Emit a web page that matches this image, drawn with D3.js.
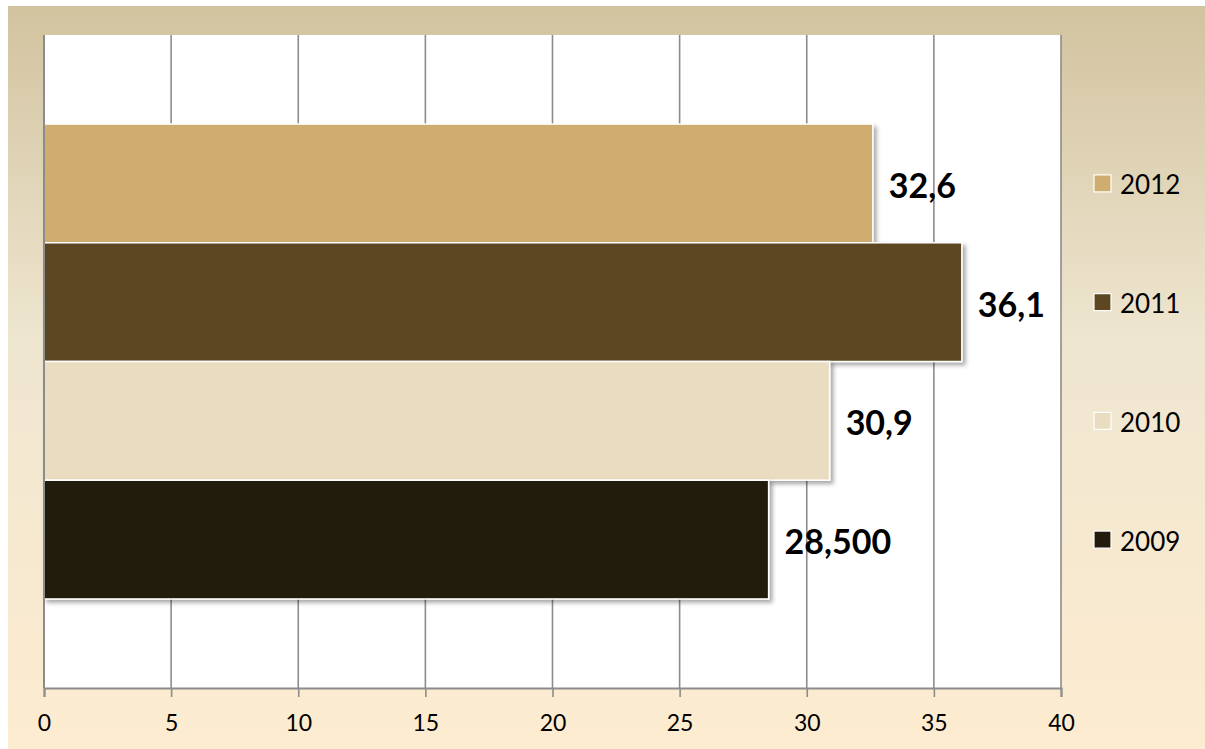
<!DOCTYPE html>
<html>
<head>
<meta charset="utf-8">
<script src="https://cdn.jsdelivr.net/npm/d3@7"></script>
<style>
  html, body { margin: 0; padding: 0; background: #ffffff; }
  svg { display: block; }
</style>
</head>
<body>
<div id="chart"></div>
<script>
// ---- data ----
const series = ["2012", "2011", "2010", "2009"];
const values = [32.6, 36.1, 30.9, 28.5];
const valueLabels = ["32,6", "36,1", "30,9", "28,500"];
const colors = ["#cfad6f", "#5c4720", "#eadcc0", "#221a0d"];
const xTicks = [0, 5, 10, 15, 20, 25, 30, 35, 40];

// ---- layout ----
const W = 1205, H = 749;
const plot = { left: 44, right: 1061, top: 35, bottom: 688 };
const fontFamily = "Lato, 'Open Sans', 'DejaVu Sans', sans-serif";

const svg = d3.select("#chart").append("svg")
  .attr("width", W).attr("height", H);

const defs = svg.append("defs");
const grad = defs.append("linearGradient").attr("id", "bg")
  .attr("x1", 0).attr("y1", 0).attr("x2", 0).attr("y2", 1);
grad.append("stop").attr("offset", "0%").attr("stop-color", "#d2c39f");
grad.append("stop").attr("offset", "45%").attr("stop-color", "#efe6d0");
grad.append("stop").attr("offset", "100%").attr("stop-color", "#fdecd0");

const shadow = defs.append("filter").attr("id", "shadow")
  .attr("x", "-5%").attr("y", "-10%").attr("width", "115%").attr("height", "130%");
shadow.append("feDropShadow").attr("dx", 3).attr("dy", 3)
  .attr("stdDeviation", 2.2).attr("flood-color", "#000").attr("flood-opacity", 0.35);

// background
svg.append("rect").attr("x", 8).attr("y", 6).attr("width", W - 8).attr("height", H - 6)
  .attr("fill", "url(#bg)");

// plot area
svg.append("rect").attr("x", plot.left).attr("y", plot.top)
  .attr("width", plot.right - plot.left).attr("height", plot.bottom - plot.top)
  .attr("fill", "#ffffff");

// scales
const x = d3.scaleLinear().domain([0, 40]).range([plot.left, plot.right]);
const y = d3.scaleBand().domain(series).range([plot.top, plot.bottom])
  .paddingInner(0).paddingOuter(0.75);

// gridlines
svg.append("g").selectAll("line").data(xTicks).join("line")
  .attr("x1", d => x(d)).attr("x2", d => x(d))
  .attr("y1", plot.top).attr("y2", plot.bottom)
  .attr("stroke", "#8c8c8c").attr("stroke-width", 1.6);

// x axis
const xAxis = d3.axisBottom(x).tickValues(xTicks).tickSize(9).tickPadding(18)
  .tickFormat(d => String(d));
const ax = svg.append("g").attr("transform", `translate(0,${plot.bottom})`).call(xAxis);
ax.select(".domain").attr("stroke", "#8c8c8c").attr("stroke-width", 2);
ax.selectAll(".tick line").attr("stroke", "#8c8c8c").attr("stroke-width", 1.6);
ax.selectAll(".tick text").attr("font-family", fontFamily).attr("font-size", 23)
  .attr("fill", "#000");

// bars
const data = series.map((s, i) => ({ s, v: values[i], label: valueLabels[i], c: colors[i] }));
svg.append("g").selectAll("rect").data(data).join("rect")
  .attr("x", x(0))
  .attr("y", d => y(d.s))
  .attr("width", d => x(d.v) - x(0))
  .attr("height", y.bandwidth())
  .attr("fill", d => d.c)
  .attr("stroke", "#ffffff").attr("stroke-width", 1.5)
  .attr("filter", "url(#shadow)");

// left axis line
svg.append("line").attr("x1", plot.left).attr("x2", plot.left)
  .attr("y1", plot.top).attr("y2", plot.bottom)
  .attr("stroke", "#8c8c8c").attr("stroke-width", 2);

// value labels
svg.append("g").selectAll("text").data(data).join("text")
  .attr("x", d => x(d.v) + 16)
  .attr("y", d => y(d.s) + y.bandwidth() / 2 + 1)
  .attr("dominant-baseline", "central")
  .attr("font-family", fontFamily).attr("font-weight", "bold").attr("font-size", 34)
  .attr("fill", "#000")
  .text(d => d.label);

// legend
const lg = svg.append("g").selectAll("g").data(data).join("g")
  .attr("transform", d => `translate(1094,${y(d.s) + y.bandwidth() / 2})`);
lg.append("rect").attr("x", 0).attr("y", -8.5).attr("width", 17).attr("height", 17)
  .attr("fill", d => d.c).attr("stroke", "#ffffff").attr("stroke-width", 1.2);
lg.append("text").attr("x", 26).attr("y", 1).attr("dominant-baseline", "central")
  .attr("font-family", fontFamily).attr("font-size", 26).attr("fill", "#000")
  .text(d => d.s);
</script>
</body>
</html>
